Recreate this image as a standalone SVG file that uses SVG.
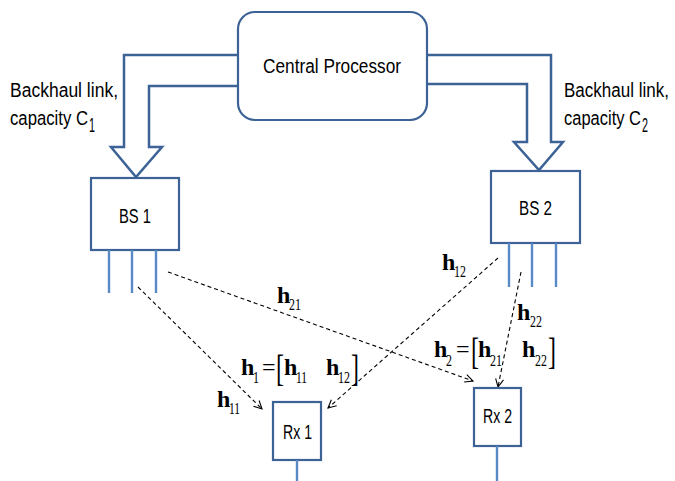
<svg xmlns="http://www.w3.org/2000/svg" width="675" height="481" viewBox="0 0 675 481">
<defs>
<marker id="arr" markerUnits="userSpaceOnUse" markerWidth="12" markerHeight="12" refX="9" refY="5" orient="auto">
<path d="M1,1 L9,5 L1,9" fill="none" stroke="#000" stroke-width="1.1"/>
</marker>
<style>
.box{fill:#fff;stroke:#3c6296;stroke-width:2.2}
.blk{fill:#fff;stroke:#3c6296;stroke-width:2.5;stroke-linejoin:miter}
.ant{stroke:#5a8ac6;stroke-width:2.4}
.dash{fill:none;stroke:#000;stroke-width:1.1;stroke-dasharray:4 3;marker-end:url(#arr)}
.t{font-family:"Liberation Sans",Arial,sans-serif;font-size:20px;fill:#000}
.n{font-family:"Liberation Sans",Arial,sans-serif;font-size:20px;fill:#000}
.hb{font-family:"Liberation Serif","Times New Roman",serif;font-weight:bold;font-size:24px;fill:#000}
.hs{font-family:"Liberation Serif","Times New Roman",serif;font-size:17px;fill:#000}
.br{font-family:"Liberation Serif","Times New Roman",serif;font-size:38px;fill:#000}
.eq{font-family:"Liberation Serif","Times New Roman",serif;font-size:24px;fill:#000}
</style>
</defs>
<rect width="675" height="481" fill="#fff"/>

<g id="connectors">
<path id="backhaul1" class="blk" d="M238,55 L124,55 L124,147 L111,147 L136,177 L162,147 L149,147 L149,86 L238,86"/>
<path id="backhaul2" class="blk" d="M427,55 L551,55 L551,142 L563,142 L539,170 L514,142 L527,142 L527,84 L427,84"/>
<line class="dash" x1="138" y1="287" x2="262" y2="409"/>
<line class="dash" x1="168" y1="272" x2="473" y2="381"/>
<line class="dash" x1="498" y1="258" x2="328" y2="408"/>
<line class="dash" x1="521" y1="272" x2="498" y2="387"/>
</g>

<g id="central">
<rect class="box" x="238" y="12" width="189" height="108" rx="17"/>
<text class="t" x="263" y="73" textLength="138" lengthAdjust="spacingAndGlyphs">Central Processor</text>
</g>

<g id="bs1">
<rect class="box" x="91" y="178" width="88" height="72"/>
<line class="ant" x1="109" y1="250" x2="109" y2="293"/>
<line class="ant" x1="132" y1="250" x2="132" y2="293"/>
<line class="ant" x1="156" y1="250" x2="156" y2="293"/>
<text class="n" x="119" y="223" textLength="32" lengthAdjust="spacingAndGlyphs">BS 1</text>
</g>

<g id="bs2">
<rect class="box" x="491" y="171" width="89" height="72"/>
<line class="ant" x1="509" y1="243" x2="509" y2="287"/>
<line class="ant" x1="532" y1="243" x2="532" y2="287"/>
<line class="ant" x1="556" y1="243" x2="556" y2="287"/>
<text class="n" x="519" y="215" textLength="33" lengthAdjust="spacingAndGlyphs">BS 2</text>
</g>

<g id="rx1">
<rect class="box" x="273" y="402" width="48" height="58"/>
<line class="ant" x1="297" y1="460" x2="297" y2="481"/>
<text class="n" x="283" y="439" textLength="29" lengthAdjust="spacingAndGlyphs">Rx 1</text>
</g>

<g id="rx2">
<rect class="box" x="474" y="388" width="47" height="58"/>
<line class="ant" x1="497" y1="446" x2="497" y2="481"/>
<text class="n" x="483" y="423" textLength="29" lengthAdjust="spacingAndGlyphs">Rx 2</text>
</g>

<g id="labels">
<text class="t" x="10" y="97" textLength="108" lengthAdjust="spacingAndGlyphs">Backhaul link,</text>
<text class="t" x="10" y="125" textLength="78" lengthAdjust="spacingAndGlyphs">capacity C</text>
<text class="t" x="89" y="132" font-size="12" textLength="6" lengthAdjust="spacingAndGlyphs">1</text>
<text class="t" x="564" y="97" textLength="105" lengthAdjust="spacingAndGlyphs">Backhaul link,</text>
<text class="t" x="564" y="125" textLength="77" lengthAdjust="spacingAndGlyphs">capacity C</text>
<text class="t" x="642" y="132" font-size="12" textLength="6" lengthAdjust="spacingAndGlyphs">2</text>

<text class="hb" x="277" y="303">h</text>
<text class="hs" x="289" y="310" textLength="12" lengthAdjust="spacingAndGlyphs">21</text>

<text class="hb" x="442" y="270">h</text>
<text class="hs" x="454" y="277" textLength="12" lengthAdjust="spacingAndGlyphs">12</text>

<text class="hb" x="517" y="320">h</text>
<text class="hs" x="530" y="327" textLength="12" lengthAdjust="spacingAndGlyphs">22</text>

<text class="hb" x="217" y="407">h</text>
<text class="hs" x="229" y="414" textLength="11" lengthAdjust="spacingAndGlyphs">11</text>

<text class="hb" x="241" y="375">h</text>
<text class="hs" x="253" y="383" textLength="6" lengthAdjust="spacingAndGlyphs">1</text>
<text class="eq" x="262" y="375">=</text>
<text class="br" x="276" y="381" textLength="8" lengthAdjust="spacingAndGlyphs">[</text>
<text class="hb" x="284" y="375">h</text>
<text class="hs" x="296" y="383" textLength="11" lengthAdjust="spacingAndGlyphs">11</text>
<text class="hb" x="326" y="375">h</text>
<text class="hs" x="338" y="383" textLength="12" lengthAdjust="spacingAndGlyphs">12</text>
<text class="br" x="351" y="381" textLength="8" lengthAdjust="spacingAndGlyphs">]</text>

<text class="hb" x="434" y="357">h</text>
<text class="hs" x="446" y="366" textLength="6" lengthAdjust="spacingAndGlyphs">2</text>
<text class="eq" x="456" y="357">=</text>
<text class="br" x="471" y="364" textLength="8" lengthAdjust="spacingAndGlyphs">[</text>
<text class="hb" x="478" y="357">h</text>
<text class="hs" x="490" y="366" textLength="12" lengthAdjust="spacingAndGlyphs">21</text>
<text class="hb" x="522" y="357">h</text>
<text class="hs" x="535" y="366" textLength="12" lengthAdjust="spacingAndGlyphs">22</text>
<text class="br" x="548" y="364" textLength="8" lengthAdjust="spacingAndGlyphs">]</text>
</g>
</svg>
